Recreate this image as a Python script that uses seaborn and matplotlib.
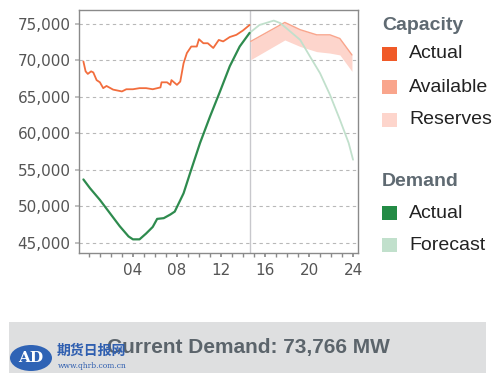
import matplotlib
matplotlib.use("Agg")
import matplotlib.pyplot as plt
import pandas as pd
import seaborn as sns
from matplotlib.patches import Rectangle, Ellipse
from matplotlib.ticker import FuncFormatter, MultipleLocator

# --- data (hour of day, MW) ---
demand_hours = [-0.5, 0.1, 1.0, 1.9, 2.8, 3.6, 4.0, 4.6, 5.2, 5.8, 6.2, 6.8, 7.4, 7.8,
                8.6, 9.2, 10.1, 11.0, 11.9, 12.8, 13.7, 14.6]
demand_actual = [53700, 52500, 50900, 49100, 47300, 45900, 45500, 45500, 46300, 47200,
                 48300, 48400, 48900, 49300, 51800, 54600, 58700, 62300, 65700, 69200,
                 71900, 73766]

cap_hours = [-0.5, -0.3, -0.1, 0.2, 0.4, 0.7, 1.0, 1.3, 1.6, 2.2, 3.0, 3.4, 4.0, 4.6,
             5.2, 5.8, 6.5, 6.6, 7.1, 7.4, 7.5, 8.0, 8.3, 8.6, 8.9, 9.3, 9.8, 10.0,
             10.4, 10.8, 11.3, 11.8, 12.2, 12.8, 13.4, 14.0, 14.6]
cap_actual = [69850, 68500, 68150, 68500, 68350, 67300, 67000, 66200, 66500, 66000,
              65750, 66050, 66050, 66200, 66200, 66050, 66300, 67000, 67000, 66650,
              67300, 66650, 67100, 69600, 71000, 71900, 71900, 72900, 72350, 72350,
              71700, 72800, 72600, 73200, 73500, 74100, 74850]

fc_hours = [14.6, 15.5, 16.8, 17.4, 18.3, 19.2, 20.1, 21.0, 21.9, 22.8, 23.6, 24.0]
demand_forecast = [73766, 74850, 75450, 75100, 73950, 72800, 70500, 68250, 65300,
                   61900, 58700, 56400]

band_hours = [14.7, 17.8, 19.2, 20.7, 21.9, 22.8, 23.9]
cap_available = [72600, 75200, 74200, 73500, 73500, 73000, 70750]
cap_reserves_low = [70100, 72800, 71900, 71200, 71000, 70750, 68500]

now_hour = 14.6
current_demand = 73766

tick_hours = [4, 8, 12, 16, 20, 24]
tick_labels = ["04", "08", "12", "16", "20", "24"]
y_ticks = [45000, 50000, 55000, 60000, 65000, 70000, 75000]

# colours
c_cap_actual = "#f05a28"
c_cap_line = "#f26d3d"
c_available = "#f9a58c"
c_reserves = "#fdd5cc"
c_dem_actual = "#238b45"
c_dem_line = "#2e8b4e"
c_forecast = "#c1e0cc"

sns.set_theme(style="white")
plt.rcParams["font.family"] = ["DejaVu Sans", "Noto Sans CJK SC"]

fig = plt.figure(figsize=(5, 3.8), dpi=100)
ax = fig.add_axes([79 / 500, 1 - 253 / 380, 279 / 500, 243 / 380])

df_cap = pd.DataFrame({"hour": cap_hours, "mw": cap_actual})
df_dem = pd.DataFrame({"hour": demand_hours, "mw": demand_actual})
df_fc = pd.DataFrame({"hour": fc_hours, "mw": demand_forecast})
df_band = pd.DataFrame({"hour": band_hours, "hi": cap_available, "lo": cap_reserves_low})

ax.fill_between(df_band["hour"], df_band["lo"], df_band["hi"], color=c_reserves, lw=0)
sns.lineplot(data=df_band, x="hour", y="hi", ax=ax, color=c_available, lw=1.0)
sns.lineplot(data=df_fc, x="hour", y="mw", ax=ax, color=c_forecast, lw=1.3)
sns.lineplot(data=df_cap, x="hour", y="mw", ax=ax, color=c_cap_line, lw=1.3)
sns.lineplot(data=df_dem, x="hour", y="mw", ax=ax, color=c_dem_line, lw=1.6)
ax.axvline(now_hour, color="#c8c8cc", lw=1.0, zorder=0)

ax.set_xlim(-0.9, 24.45)
ax.set_ylim(43630, 76900)
ax.set_xticks(tick_hours)
ax.set_xticklabels(tick_labels)
ax.xaxis.set_minor_locator(MultipleLocator(1))
ax.set_yticks(y_ticks)
ax.yaxis.set_major_formatter(FuncFormatter(lambda v, p: f"{int(v):,}"))
ax.set_xlabel("")
ax.set_ylabel("")
ax.grid(axis="y", linestyle=(0, (3, 3)), color="#b8b8b8", lw=0.8)
ax.set_axisbelow(True)
for s in ax.spines.values():
    s.set_color("#8a8a8a")
    s.set_linewidth(1.0)
ax.tick_params(axis="x", which="both", bottom=True, direction="out", length=3,
               color="#8a8a8a", labelsize=11, labelcolor="#555555", pad=4)
ax.tick_params(axis="x", which="minor", length=3)
ax.tick_params(axis="y", left=True, length=3, color="#b8b8b8", labelsize=11,
               labelcolor="#555555", pad=3)

# legend built by hand
lf = ["Liberation Sans", "DejaVu Sans"]
head_col = "#5f6a72"


def fy(py):
    return 1 - py / 380


fig.text(382 / 500, fy(25), "Capacity", fontsize=14, fontweight="bold", color=head_col,
         family=lf, va="center")
fig.text(382 / 500, fy(182), "Demand", fontsize=14, fontweight="bold", color=head_col,
         family=lf, va="center")
legend_items = [(c_cap_actual, "Actual", 54), (c_available, "Available", 87),
                (c_reserves, "Reserves", 120), (c_dem_actual, "Actual", 213),
                (c_forecast, "Forecast", 245)]
for col, lab, py in legend_items:
    fig.patches.append(Rectangle((382 / 500, fy(py + 7)), 15 / 500, 14 / 380,
                                 transform=fig.transFigure, color=col, lw=0))
    fig.text(409 / 500, fy(py), lab, fontsize=14, color="#222222", family=lf, va="center")

# bottom banner
fig.patches.append(Rectangle((9 / 500, fy(373)), 477 / 500, 51 / 380,
                             transform=fig.transFigure, color="#dedfe0", lw=0))
fig.text(248 / 500, fy(347), f"Current Demand: {current_demand:,} MW", fontsize=15,
         fontweight="bold", color="#5b646b", family=lf, ha="center", va="center")

# watermark
fig.patches.append(Ellipse((31 / 500, fy(358)), 42 / 500, 26 / 380,
                           transform=fig.transFigure, color="#2f63b5", lw=0))
fig.text(31 / 500, fy(358), "AD", fontsize=11, fontweight="bold", color="white",
         ha="center", va="center", family=["DejaVu Serif"])
fig.text(57 / 500, fy(351), "期货日报网", fontsize=10, fontweight="bold", color="#2f5fb0",
         family=["Noto Sans CJK SC"], va="center")
fig.text(58 / 500, fy(366), "www.qhrb.com.cn", fontsize=5.5, color="#2f5fb0",
         family=["DejaVu Serif"], va="center")

fig.savefig("out.png", dpi=100, facecolor="white")
